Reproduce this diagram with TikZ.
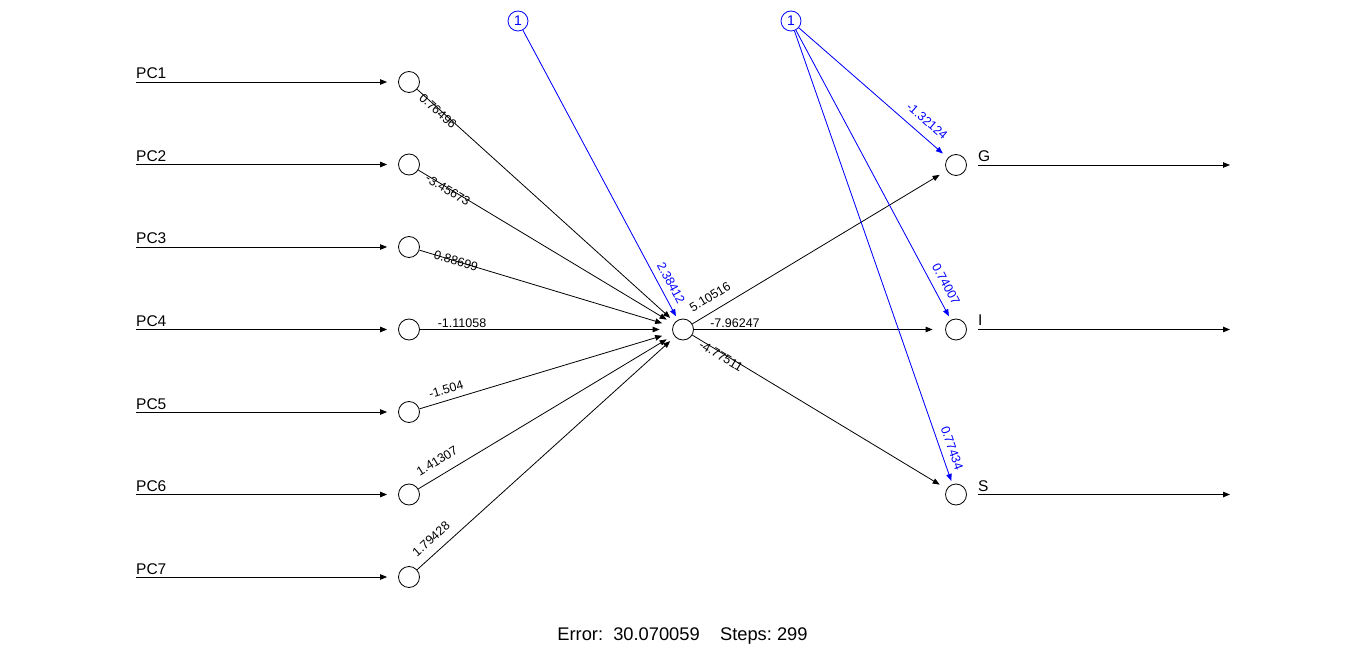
\documentclass[tikz,border=0pt]{standalone}
\usepackage{fontspec}
\setmainfont{Liberation Sans}
\usetikzlibrary{arrows.meta}
\definecolor{biasblue}{RGB}{0,0,255}
\begin{document}
\begin{tikzpicture}[x=1pt,y=-1pt,
  neuron/.style={circle,draw,line width=0.8pt,minimum size=21pt,inner sep=0pt},
  biasnode/.style={circle,draw=biasblue,text=biasblue,line width=0.8pt,minimum size=20pt,inner sep=0pt,font=\fontsize{14}{16}\selectfont},
  wire/.style={line width=0.8pt,-{Triangle[length=7pt,width=5.5pt]}},
  biaswire/.style={wire,draw=biasblue,fill=biasblue},
  wlabel/.style={font=\fontsize{12.5}{14}\selectfont,inner sep=0pt},
  blabel/.style={wlabel,text=biasblue},
  namelabel/.style={font=\fontsize{15.5}{18}\selectfont,anchor=base west,inner sep=0pt}
]
\useasboundingbox (0,0) rectangle (1366,660);

% input layer
\foreach \i/\y in {1/82,2/164.5,3/247,4/329.5,5/412,6/494.5,7/577}{
  \node[neuron] (in\i) at (409,\y) {};
  \coordinate (src\i) at (136,\y);
  \node[namelabel] (pc\i) at (136,\y-3) {PC\i};
  \draw[wire,shorten >=11pt] (src\i) -- (in\i);
}

% hidden neuron
\node[neuron] (hid) at (683,329.5) {};

% output layer
\node[neuron] (outG) at (956,165) {};
\node[neuron] (outI) at (956,329.5) {};
\node[neuron] (outS) at (956,494.5) {};
\foreach \o/\y/\t in {G/165/G,I/329.5/I,S/494.5/S}{
  \coordinate (end\o) at (1230,\y);
  \node[namelabel] (lab\o) at (978,\y-3.5) {\t};
  \draw[wire,shorten <=11.5pt] (out\o) -- (end\o);
}

% bias neurons
\node[biasnode] (b1) at (518,21) {1};
\node[biasnode] (b2) at (791,21) {1};

% input -> hidden
\draw[wire,shorten >=6.4pt]  (in1) -- (hid);
\draw[wire,shorten >=8.2pt]  (in2) -- (hid);
\draw[wire,shorten >=10.9pt] (in3) -- (hid);
\draw[wire,shorten >=12.5pt] (in4) -- (hid);
\draw[wire,shorten >=10.9pt] (in5) -- (hid);
\draw[wire,shorten >=8.2pt]  (in6) -- (hid);
\draw[wire,shorten >=6.4pt]  (in7) -- (hid);
\draw[biaswire,shorten >=4.1pt] (b1) -- (hid);

% hidden -> output
\draw[wire,shorten >=8.2pt]  (hid) -- (outG);
\draw[wire,shorten >=12.5pt] (hid) -- (outI);
\draw[wire,shorten >=8.2pt]  (hid) -- (outS);
\draw[biaswire,shorten >=6.5pt] (b2) -- (outG);
\draw[biaswire,shorten >=4.1pt] (b2) -- (outI);
\draw[biaswire,shorten >=3.5pt] (b2) -- (outS);

% weights
\node[wlabel,rotate=-42.1]  (w1) at (438,111) {0.76496};
\node[wlabel,rotate=-31.1]  (w2) at (448,190) {-3.45673};
\node[wlabel,rotate=-16.85] (w3) at (456,261) {0.88699};
\node[wlabel]               (w4) at (462,323) {-1.11058};
\node[wlabel,rotate=16.7]   (w5) at (446,389) {-1.504};
\node[wlabel,rotate=31.1]   (w6) at (437,461) {1.41307};
\node[wlabel,rotate=42.0]   (w7) at (431,539) {1.79428};
\node[blabel,rotate=-61.9]  (wb1) at (671,283) {2.38412};
\node[wlabel,rotate=31.15]  (v1) at (710,297) {5.10516};
\node[wlabel]               (v2) at (735,323) {-7.96247};
\node[wlabel,rotate=-31.15] (v3) at (721,356) {-4.77511};
\node[blabel,rotate=-41.1]  (vb1) at (927,121) {-1.32124};
\node[blabel,rotate=-61.9]  (vb2) at (946,284) {0.74007};
\node[blabel,rotate=-70.8]  (vb3) at (952,448) {0.77434};

% training summary
\node[font=\fontsize{18.3}{21}\selectfont,inner sep=0pt] (info) at (682.5,636)
  {Error:\ \ 30.070059\ \ \ \ Steps:\ 299};
\end{tikzpicture}
\end{document}
